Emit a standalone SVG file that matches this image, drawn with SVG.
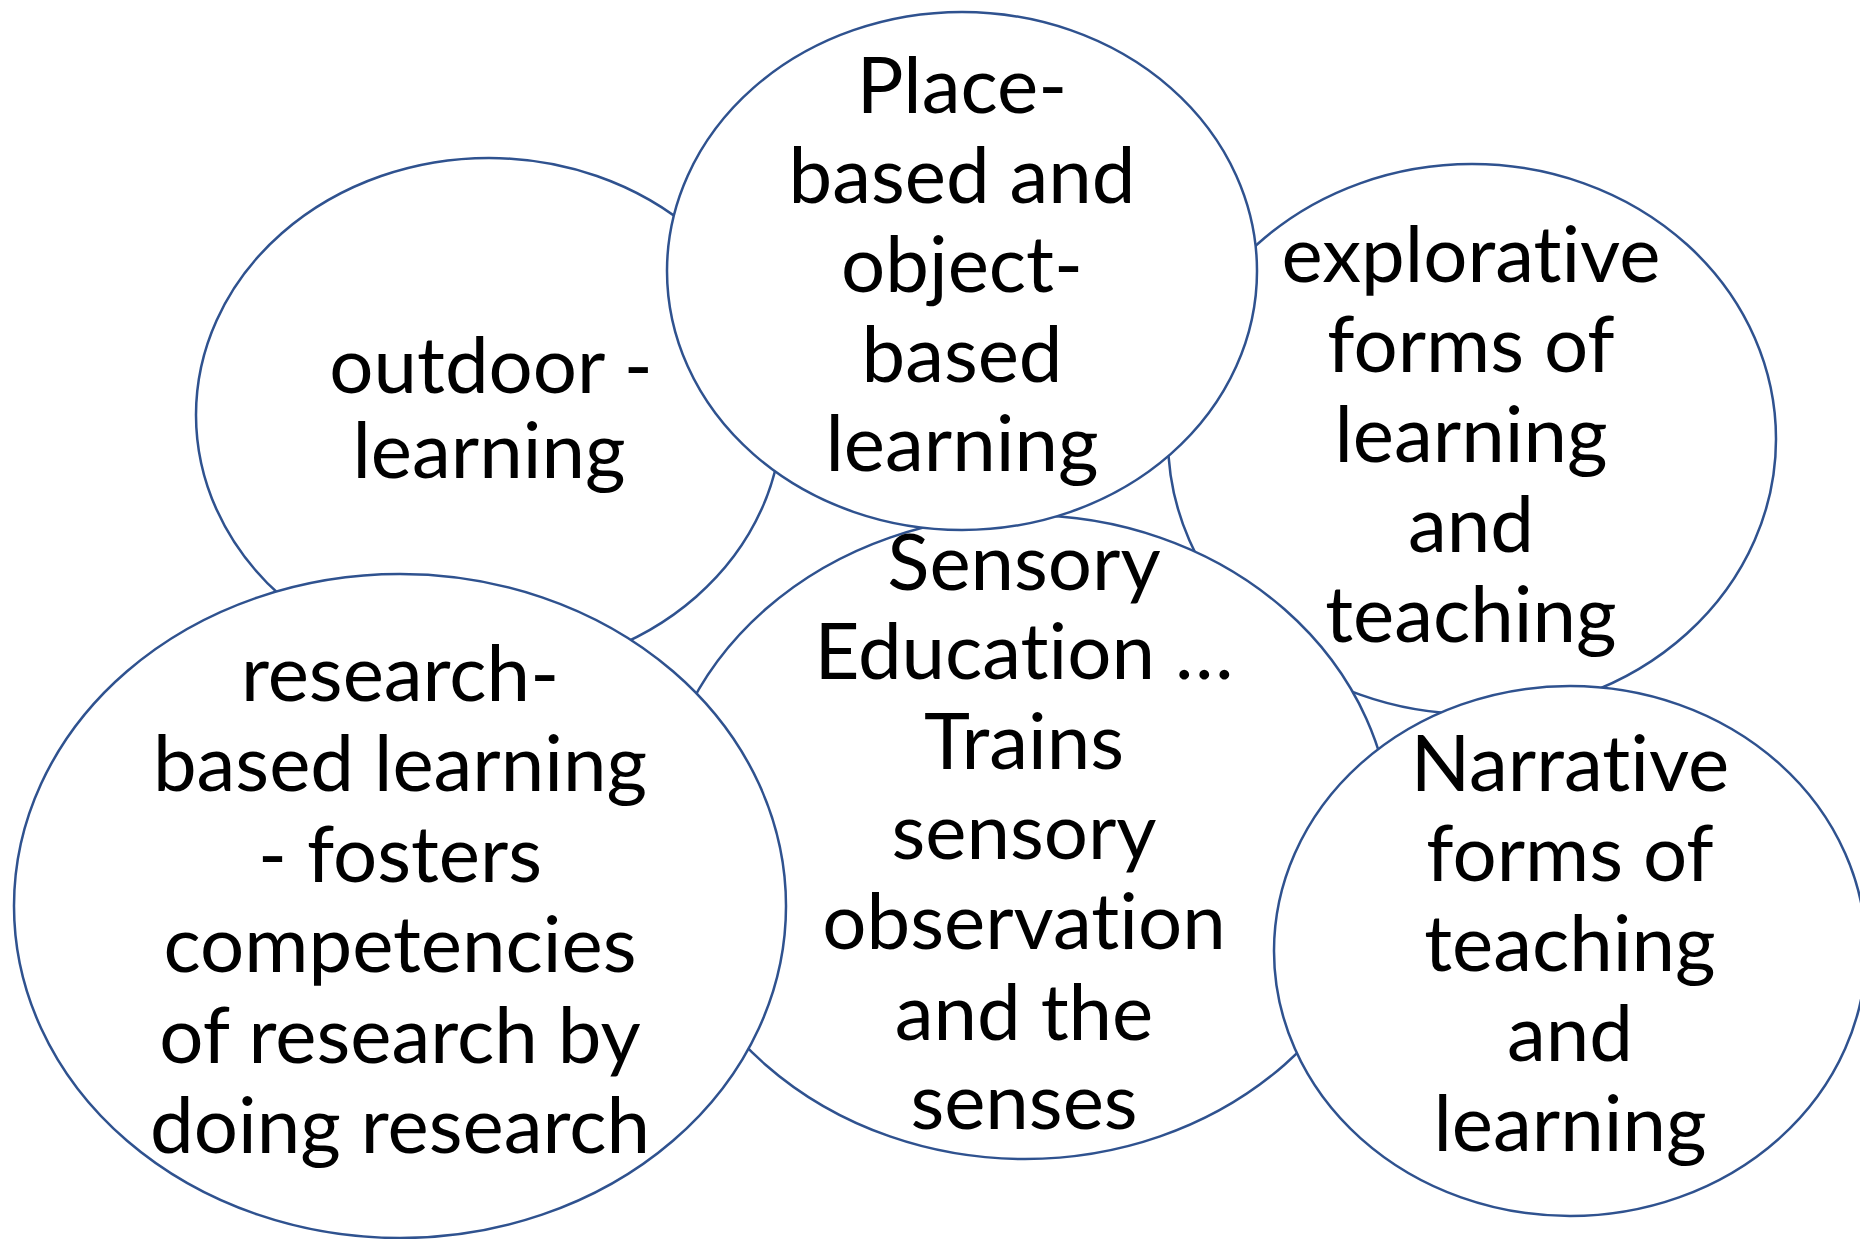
<svg xmlns="http://www.w3.org/2000/svg" width="1860" height="1239" viewBox="0 0 1860 1239">
  <style>
    .bubble { fill: #ffffff; stroke: #2f528f; stroke-width: 2.5; }
    .label { font-family: Lato, "Open Sans", "Liberation Sans", sans-serif; font-size: 78px; fill: #000000; text-anchor: middle; font-variant-ligatures: none; font-feature-settings: "liga" 0; }
  </style>
  <rect x="0" y="0" width="1860" height="1239" fill="#ffffff"/>
  <g id="connectors"/>
  <!-- bubbles are painted back to front so overlaps read correctly -->
  <g id="outdoor">
    <ellipse class="bubble" cx="489" cy="415" rx="293" ry="257"/>
    <text class="label"><tspan x="491" y="393">outdoor -</tspan><tspan x="489" y="478">learning</tspan></text>
  </g>
  <g id="explorative">
    <ellipse class="bubble" cx="1472" cy="439" rx="304" ry="275"/>
    <text class="label"><tspan x="1471" y="282">explorative</tspan><tspan x="1471" y="372">forms of</tspan><tspan x="1471" y="462">learning</tspan><tspan x="1471" y="552">and</tspan><tspan x="1471" y="642">teaching</tspan></text>
  </g>
  <g id="sensory">
    <ellipse class="bubble" cx="1025" cy="837" rx="367" ry="322"/>
    <text class="label"><tspan x="1024" y="590">Sensory</tspan><tspan x="1024" y="679">Education …</tspan><tspan x="1024" y="769">Trains</tspan><tspan x="1024" y="859">sensory</tspan><tspan x="1024" y="949">observation</tspan><tspan x="1024" y="1040">and the</tspan><tspan x="1024" y="1129">senses</tspan></text>
  </g>
  <g id="place">
    <ellipse class="bubble" cx="962" cy="271" rx="295" ry="259"/>
    <text class="label"><tspan x="962" y="113">Place-</tspan><tspan x="962" y="203">based and</tspan><tspan x="962" y="292">object-</tspan><tspan x="962" y="382">based</tspan><tspan x="962" y="471">learning</tspan></text>
  </g>
  <g id="research">
    <ellipse class="bubble" cx="400" cy="906" rx="386" ry="332"/>
    <text class="label"><tspan x="400" y="701">research-</tspan><tspan x="400" y="791">based learning</tspan><tspan x="400" y="882">- fosters</tspan><tspan x="400" y="972">competencies</tspan><tspan x="400" y="1063">of research by</tspan><tspan x="400" y="1153">doing research</tspan></text>
  </g>
  <g id="narrative">
    <ellipse class="bubble" cx="1570" cy="951" rx="296" ry="265"/>
    <text class="label"><tspan x="1570" y="791">Narrative</tspan><tspan x="1570" y="881">forms of</tspan><tspan x="1570" y="971">teaching</tspan><tspan x="1570" y="1061">and</tspan><tspan x="1570" y="1151">learning</tspan></text>
  </g>
</svg>
